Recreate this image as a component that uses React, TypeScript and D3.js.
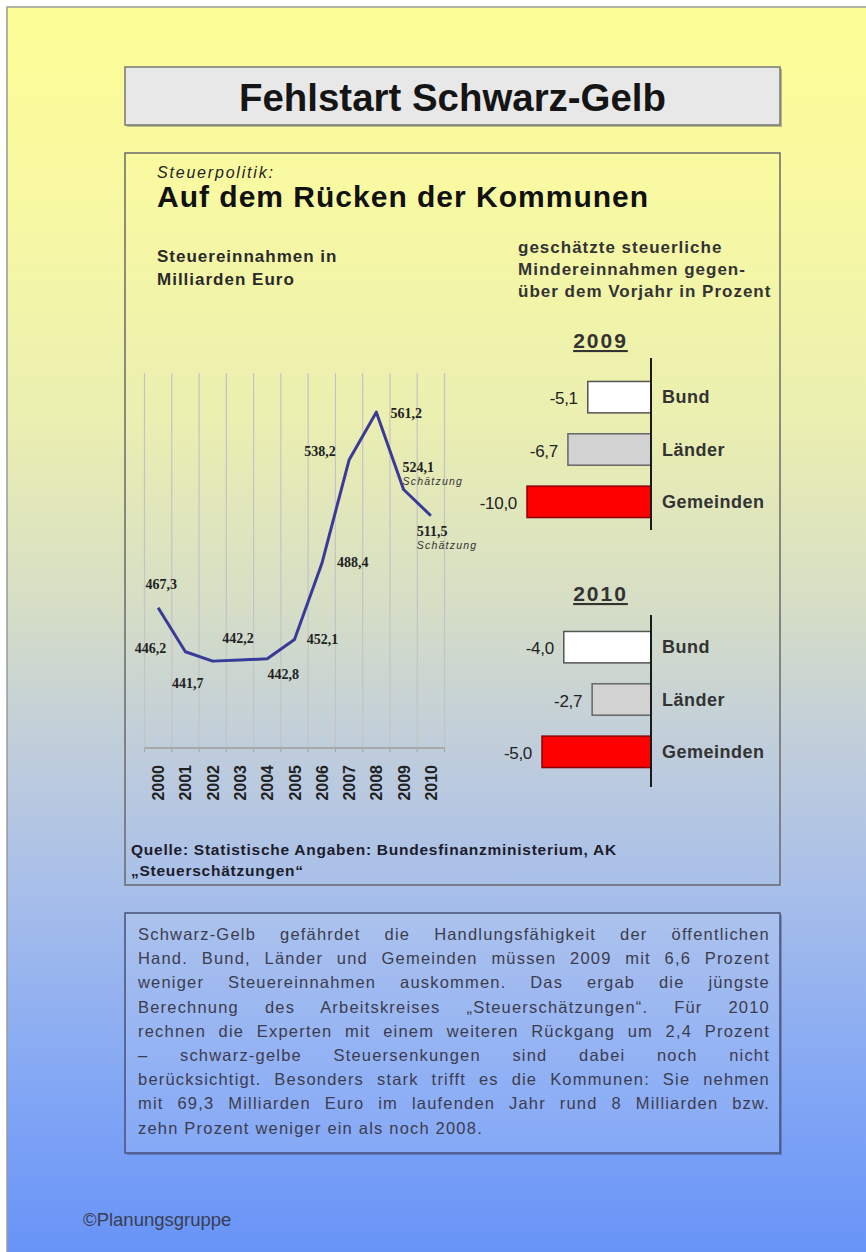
import React, { useEffect, useRef } from 'react';
import * as d3 from 'd3';

const years = ['2000', '2001', '2002', '2003', '2004', '2005', '2006', '2007', '2008', '2009', '2010'];
const revenue = [467.3, 446.2, 441.7, 442.2, 442.8, 452.1, 488.4, 538.2, 561.2, 524.1, 511.5];
const estimated = [false, false, false, false, false, false, false, false, false, true, true];

const levels = ['Bund', 'Länder', 'Gemeinden'];
const loss2009 = [-5.1, -6.7, -10.0];
const loss2010 = [-4.0, -2.7, -5.0];

const levelFill = ['#ffffff', '#d2d2d2', '#ff0000'];
const levelStroke = ['#555555', '#666666', '#8a0000'];

const bodyLines = [
  'Schwarz-Gelb gefährdet die Handlungsfähigkeit der öffentlichen',
  'Hand. Bund, Länder und Gemeinden müssen 2009 mit 6,6 Prozent',
  'weniger Steuereinnahmen auskommen. Das ergab die jüngste',
  'Berechnung des Arbeitskreises „Steuerschätzungen“. Für 2010',
  'rechnen die Experten mit einem weiteren Rückgang um 2,4 Prozent',
  '– schwarz-gelbe Steuersenkungen sind dabei noch nicht',
  'berücksichtigt. Besonders stark trifft es die Kommunen: Sie nehmen',
  'mit 69,3 Milliarden Euro im laufenden Jahr rund 8 Milliarden bzw.',
  'zehn Prozent weniger ein als noch 2008.',
];

// where each value label sits relative to its point
const labelPos: [number, number, string][] = [
  [3, -19, 'middle'], [-35, 1, 'middle'], [-25, 27, 'middle'], [-2, -17, 'middle'],
  [16, 20, 'middle'], [28, 5, 'middle'], [31, 3, 'middle'], [-29, -4, 'middle'],
  [30, 6, 'middle'], [-1, -17, 'start'], [-14, 20, 'start'],
];

const de = d3.formatLocale({ decimal: ',', thousands: '.', grouping: [3], currency: ['', ' €'], minus: '-' });
const fmt = de.format('.1f');

const SANS = "'Liberation Sans', Arial, sans-serif";
const SERIF = "'Liberation Serif', 'Times New Roman', serif";

export default function App() {
  const ref = useRef<SVGSVGElement>(null);

  useEffect(() => {
    if (!ref.current) return;
    const svg = d3.select(ref.current);
    svg.selectAll('*').remove();

    const txt = (g: any, x: number, y: number, s: string, o: any = {}) =>
      g.append('text')
        .attr('x', x).attr('y', y)
        .attr('font-family', o.family || SANS)
        .attr('font-size', o.size || 14)
        .attr('font-weight', o.weight || 'normal')
        .attr('font-style', o.style || 'normal')
        .attr('text-anchor', o.anchor || 'start')
        .attr('letter-spacing', o.ls || 0)
        .attr('fill', o.fill || '#222')
        .text(s);

    const defs = svg.append('defs');
    const grad = defs.append('linearGradient').attr('id', 'bg')
      .attr('gradientUnits', 'userSpaceOnUse')
      .attr('x1', 0).attr('y1', 7).attr('x2', 0).attr('y2', 1252);
    [[0, '#fdfd96'], [0.15, '#f8f9a2'], [0.33, '#ebefb0'], [0.48, '#d6dec6'],
     [0.6, '#bfcddc'], [0.72, '#a5bdeb'], [0.86, '#84a8f4'], [1, '#6894f8']]
      .forEach(([o, c]) => grad.append('stop').attr('offset', o as number).attr('stop-color', c as string));

    svg.append('rect').attr('width', 866).attr('height', 1252).attr('fill', '#ffffff');
    svg.append('rect').attr('x', 7).attr('y', 7).attr('width', 880).attr('height', 1270)
      .attr('fill', 'url(#bg)').attr('stroke', '#9a9a9a').attr('stroke-width', 1.5);

    // title box
    svg.append('rect').attr('x', 127).attr('y', 69).attr('width', 655).attr('height', 58).attr('fill', '#8a8a70').attr('opacity', 0.6);
    svg.append('rect').attr('x', 125).attr('y', 67).attr('width', 655).attr('height', 58)
      .attr('fill', '#e8e8e8').attr('stroke', '#777').attr('stroke-width', 1.5);
    txt(svg, 452.5, 111, 'Fehlstart Schwarz-Gelb', { size: 38, weight: 'bold', anchor: 'middle', fill: '#151515' })
      .attr('textLength', 427).attr('lengthAdjust', 'spacingAndGlyphs');

    // chart box
    svg.append('rect').attr('x', 125).attr('y', 153).attr('width', 655).attr('height', 732)
      .attr('fill', 'none').attr('stroke', '#6a6a6a').attr('stroke-width', 1.5);

    txt(svg, 157, 178, 'Steuerpolitik:', { size: 16, style: 'italic', ls: 1.8, fill: '#222' });
    txt(svg, 157, 207, 'Auf dem Rücken der Kommunen', { size: 30, weight: 'bold', ls: 1, fill: '#111' });
    txt(svg, 157, 262, 'Steuereinnahmen in', { size: 17, weight: 'bold', ls: 1, fill: '#2a2a2a' });
    txt(svg, 157, 285, 'Milliarden Euro', { size: 17, weight: 'bold', ls: 1, fill: '#2a2a2a' });
    ['geschätzte steuerliche', 'Mindereinnahmen gegen-', 'über dem Vorjahr in Prozent'].forEach((s, i) =>
      txt(svg, 518, 253 + i * 22, s, { size: 17, weight: 'bold', ls: 1, fill: '#333' }));

    // line chart
    const x = d3.scaleBand().domain(years).range([144.5, 444.5]);
    const y = d3.scaleLinear().domain([400, 580]).range([748, 373]);
    const cx = (yr: string) => (x(yr) as number) + x.bandwidth() / 2;

    const lc = svg.append('g');
    d3.range(years.length + 1).forEach(i => {
      const gx = x.range()[0] + i * x.step();
      lc.append('line').attr('x1', gx).attr('x2', gx).attr('y1', y(580)).attr('y2', y(400))
        .attr('stroke', '#c4c4c4').attr('stroke-width', 1.2);
      lc.append('line').attr('x1', gx).attr('x2', gx).attr('y1', y(400)).attr('y2', y(400) + 4)
        .attr('stroke', '#a8a8a8').attr('stroke-width', 1.2);
    });
    lc.append('line').attr('x1', x.range()[0]).attr('x2', x.range()[1]).attr('y1', y(400)).attr('y2', y(400))
      .attr('stroke', '#a8a8a8').attr('stroke-width', 2);

    years.forEach(yr => {
      lc.append('text')
        .attr('transform', `translate(${cx(yr) + 6},765) rotate(-90)`)
        .attr('text-anchor', 'end').attr('font-family', SANS).attr('font-size', 16)
        .attr('font-weight', 'bold').attr('fill', '#222').text(yr);
    });

    const line = d3.line<number>()
      .x((_, i) => cx(years[i]))
      .y(d => y(d))
      .curve(d3.curveLinear);
    lc.append('path').attr('d', line(revenue) as string).attr('fill', 'none')
      .attr('stroke', '#3a3a98').attr('stroke-width', 3).attr('stroke-linejoin', 'round');

    revenue.forEach((v, i) => {
      const [dx, dy, anchor] = labelPos[i];
      const px = cx(years[i]) + dx;
      const py = y(v) + dy;
      txt(lc, px, py, fmt(v), { family: SERIF, size: 14, weight: 'bold', anchor, fill: '#222' });
      if (estimated[i]) {
        txt(lc, px, py + 13, 'Schätzung', { size: 10.5, style: 'italic', ls: 1.2, fill: '#333' });
      }
    });

    txt(svg, 131, 855, 'Quelle: Statistische Angaben: Bundesfinanzministerium, AK', { size: 15.5, weight: 'bold', ls: 0.75, fill: '#1c1c2c' });
    txt(svg, 131, 876, '„Steuerschätzungen“', { size: 15.5, weight: 'bold', ls: 0.75, fill: '#1c1c2c' });

    // bar panels
    const panels = [
      { year: '2009', values: loss2009, domain: [-10, 0], range: [527, 651], band: [371, 528], axis: [358, 530], titleY: 348 },
      { year: '2010', values: loss2010, domain: [-5, 0], range: [542, 651], band: [621, 778], axis: [615, 787], titleY: 601 },
    ];
    panels.forEach(p => {
      const g = svg.append('g');
      const xs = d3.scaleLinear().domain(p.domain).range(p.range);
      const ys = d3.scaleBand().domain(levels).range(p.band as [number, number]).paddingInner(0.4).paddingOuter(0.2);
      txt(g, 600.5, p.titleY, p.year, { size: 21, weight: 'bold', anchor: 'middle', ls: 2, fill: '#333' })
        .attr('text-decoration', 'underline');
      p.values.forEach((v, i) => {
        const lv = levels[i];
        const by = ys(lv) as number;
        g.append('rect').attr('x', xs(v)).attr('y', by).attr('width', xs(0) - xs(v)).attr('height', ys.bandwidth())
          .attr('fill', levelFill[i]).attr('stroke', levelStroke[i]).attr('stroke-width', 1.5);
        txt(g, xs(v) - 10, by + ys.bandwidth() / 2 + 7, fmt(v), { size: 17, anchor: 'end', ls: -0.3, fill: '#222' });
        txt(g, xs(0) + 11, by + ys.bandwidth() / 2 + 6, lv, { size: 18, weight: 'bold', ls: 0.5, fill: '#333' });
      });
      g.append('line').attr('x1', xs(0)).attr('x2', xs(0)).attr('y1', p.axis[0]).attr('y2', p.axis[1])
        .attr('stroke', '#1a1a1a').attr('stroke-width', 2);
    });

    // text box
    svg.append('rect').attr('x', 127).attr('y', 915).attr('width', 655).attr('height', 240).attr('fill', '#3a4a80').attr('opacity', 0.4);
    svg.append('rect').attr('x', 125).attr('y', 913).attr('width', 655).attr('height', 240)
      .attr('fill', 'url(#bg)').attr('stroke', '#4a5276').attr('stroke-width', 1.5);
    svg.append('rect').attr('x', 126).attr('y', 914).attr('width', 653).attr('height', 238)
      .attr('fill', '#ffffff').attr('fill-opacity', 0.1);
    bodyLines.forEach((s, i) => {
      const t = txt(svg, 138, 940 + i * 24.2, s, { size: 16.5, ls: 1.2, fill: '#3c3c4e' });
      if (i < bodyLines.length - 1) {
        const w = (t.node() as SVGTextElement).getComputedTextLength();
        const gaps = (s.match(/ /g) || []).length;
        if (gaps) t.attr('word-spacing', (632 - w) / gaps);
      }
    });

    txt(svg, 83, 1226, '©Planungsgruppe', { size: 18.5, fill: '#3a3d52' });
  }, []);

  return (
    <svg ref={ref} width={866} height={1252}
      style={{ position: 'absolute', left: 0, top: 0, display: 'block' }} />
  );
}
